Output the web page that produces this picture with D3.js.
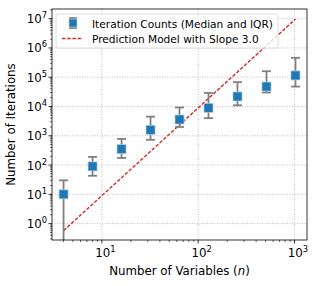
<!DOCTYPE html>
<html>
<head>
<meta charset="utf-8">
<script src="https://cdn.jsdelivr.net/npm/d3@7"></script>
<style>
  body { margin: 0; background: #fff; }
  text { font-family: "DejaVu Sans", sans-serif; }
</style>
</head>
<body>
<script>
// data
const nVars = [4, 8, 16, 32, 64, 128, 256, 512, 1024]
const medians = [10, 90, 350, 1600, 3600, 9000, 22000, 48000, 115000]
const q1 = [0.01, 43, 175, 730, 2000, 4000, 11000, 30000, 48000]
const q3 = [30, 190, 780, 4500, 9300, 29000, 68000, 160000, 460000]
const slope = 3.0
const coef = 0.009
const xTicks = [10, 100, 1000]
const yTicks = [1, 10, 100, 1000, 1e4, 1e5, 1e6, 1e7]

const W = 317, H = 286
const margin = { top: 9, right: 10, bottom: 46, left: 52 }
const width = W - margin.left - margin.right
const height = H - margin.top - margin.bottom

const svg = d3.select('body').append('svg')
    .attr('width', W).attr('height', H)
const g = svg.append('g')
    .attr('transform', 'translate(' + margin.left + ',' + margin.top + ')')

// log scales, domain padded 5% like matplotlib
let x = d3.scaleLog().domain([Math.pow(10, 0.482), Math.pow(10, 3.13)]).range([0, width])
let y = d3.scaleLog().domain([Math.pow(10, -0.56), Math.pow(10, 7.33)]).range([height, 0])

// grid
g.append('g').selectAll('line').data(xTicks).join('line')
    .attr('x1', d => x(d)).attr('x2', d => x(d))
    .attr('y1', 0).attr('y2', height)
    .attr('stroke', '#b0b0b0').attr('stroke-width', 0.8).attr('stroke-dasharray', '1,1.5')
g.append('g').selectAll('line').data(yTicks).join('line')
    .attr('y1', d => y(d)).attr('y2', d => y(d))
    .attr('x1', 0).attr('x2', width)
    .attr('stroke', '#b0b0b0').attr('stroke-width', 0.8).attr('stroke-dasharray', '1,1.5')

// minor ticks
let xMinor = []
for (let e = 0; e < 4; e++) for (let k = 2; k < 10; k++) {
    let v = k * Math.pow(10, e)
    if (v >= x.domain()[0] && v <= x.domain()[1]) xMinor.push(v)
}
let yMinor = []
for (let e = -1; e < 8; e++) for (let k = 2; k < 10; k++) {
    let v = k * Math.pow(10, e)
    if (v >= y.domain()[0] && v <= y.domain()[1]) yMinor.push(v)
}
g.append('g').selectAll('line').data(xMinor).join('line')
    .attr('x1', d => x(d)).attr('x2', d => x(d))
    .attr('y1', height).attr('y2', height + 2)
    .attr('stroke', '#000').attr('stroke-width', 0.6)
g.append('g').selectAll('line').data(yMinor).join('line')
    .attr('y1', d => y(d)).attr('y2', d => y(d))
    .attr('x1', 0).attr('x2', -2)
    .attr('stroke', '#000').attr('stroke-width', 0.6)

// major ticks + labels
g.append('g').selectAll('line').data(xTicks).join('line')
    .attr('x1', d => x(d)).attr('x2', d => x(d))
    .attr('y1', height).attr('y2', height + 3.5)
    .attr('stroke', '#000').attr('stroke-width', 0.8)
g.append('g').selectAll('line').data(yTicks).join('line')
    .attr('y1', d => y(d)).attr('y2', d => y(d))
    .attr('x1', 0).attr('x2', -3.5)
    .attr('stroke', '#000').attr('stroke-width', 0.8)

function powLabel(sel, d) {
    let e = Math.round(Math.log10(d))
    sel.append('tspan').text('10')
    sel.append('tspan').attr('dy', -5).attr('font-size', 8.4).text(e)
}
g.append('g').selectAll('text').data(xTicks).join('text')
    .attr('x', d => x(d) + 3.5).attr('y', height + 17)
    .attr('text-anchor', 'middle').attr('font-size', 11.8)
    .each(function (d) { powLabel(d3.select(this), d) })
g.append('g').selectAll('text').data(yTicks).join('text')
    .attr('x', -5).attr('y', d => y(d) + 4.5)
    .attr('text-anchor', 'end').attr('font-size', 11.8)
    .each(function (d) { powLabel(d3.select(this), d) })

// prediction line
let predX = [nVars[0], nVars[nVars.length - 1]]
g.append('path')
    .datum(predX)
    .attr('d', d3.line().x(d => x(d)).y(d => y(coef * Math.pow(d, slope))))
    .attr('fill', 'none').attr('stroke', '#d62728').attr('stroke-width', 1.4)
    .attr('stroke-dasharray', '3.5,1.7')

// error bars
let pts = nVars.map((n, i) => ({ n: n, m: medians[i], lo: q1[i], hi: q3[i] }))
let eb = g.append('g').attr('stroke', '#808080').attr('stroke-width', 1.8)
eb.selectAll('.v').data(pts).join('line')
    .attr('x1', d => x(d.n)).attr('x2', d => x(d.n))
    .attr('y1', d => Math.min(y(d.lo), height)).attr('y2', d => y(d.hi))
eb.selectAll('.ch').data(pts).join('line')
    .attr('x1', d => x(d.n) - 4.5).attr('x2', d => x(d.n) + 4.5)
    .attr('y1', d => y(d.hi)).attr('y2', d => y(d.hi))
eb.selectAll('.cl').data(pts.filter(d => y(d.lo) < height)).join('line')
    .attr('x1', d => x(d.n) - 4.5).attr('x2', d => x(d.n) + 4.5)
    .attr('y1', d => y(d.lo)).attr('y2', d => y(d.lo))

g.append('g').selectAll('rect').data(pts).join('rect')
    .attr('x', d => x(d.n) - 4.5).attr('y', d => y(d.m) - 4.5)
    .attr('width', 9).attr('height', 9)
    .attr('fill', '#1f77b4').attr('stroke', '#aecbe3').attr('stroke-width', 0.7)

// frame
g.append('rect').attr('width', width).attr('height', height)
    .attr('fill', 'none').attr('stroke', '#000').attr('stroke-width', 0.8)

// legend
let lg = g.append('g').attr('transform', 'translate(4,5)')
lg.append('rect').attr('width', 222).attr('height', 34).attr('rx', 2)
    .attr('fill', '#fff').attr('fill-opacity', 0.8).attr('stroke', '#d6d6d6').attr('stroke-width', 0.8)
lg.append('line').attr('x1', 17).attr('x2', 17).attr('y1', 4).attr('y2', 14)
    .attr('stroke', '#808080').attr('stroke-width', 1.8)
lg.append('line').attr('x1', 13).attr('x2', 21).attr('y1', 4).attr('y2', 4)
    .attr('stroke', '#808080').attr('stroke-width', 1.8)
lg.append('line').attr('x1', 13).attr('x2', 21).attr('y1', 14).attr('y2', 14)
    .attr('stroke', '#808080').attr('stroke-width', 1.8)
lg.append('rect').attr('x', 13).attr('y', 5).attr('width', 8).attr('height', 8)
    .attr('fill', '#1f77b4').attr('stroke', '#aecbe3').attr('stroke-width', 0.7)
lg.append('line').attr('x1', 6).attr('x2', 27).attr('y1', 24.5).attr('y2', 24.5)
    .attr('stroke', '#d62728').attr('stroke-width', 1.4).attr('stroke-dasharray', '3.5,1.7')
lg.append('text').attr('x', 36).attr('y', 13.5).attr('font-size', 10.6)
    .text('Iteration Counts (Median and IQR)')
lg.append('text').attr('x', 36).attr('y', 28.5).attr('font-size', 10.6)
    .text('Prediction Model with Slope 3.0')

// axis labels
svg.append('text')
    .attr('x', margin.left + width / 2).attr('y', 275)
    .attr('text-anchor', 'middle').attr('font-size', 11.8)
    .html('Number of Variables (<tspan font-style="italic">n</tspan>)')
svg.append('text')
    .attr('transform', 'translate(15,' + (margin.top + height / 2) + ') rotate(-90)')
    .attr('text-anchor', 'middle').attr('font-size', 11.8)
    .text('Number of Iterations')
</script>
</body>
</html>
